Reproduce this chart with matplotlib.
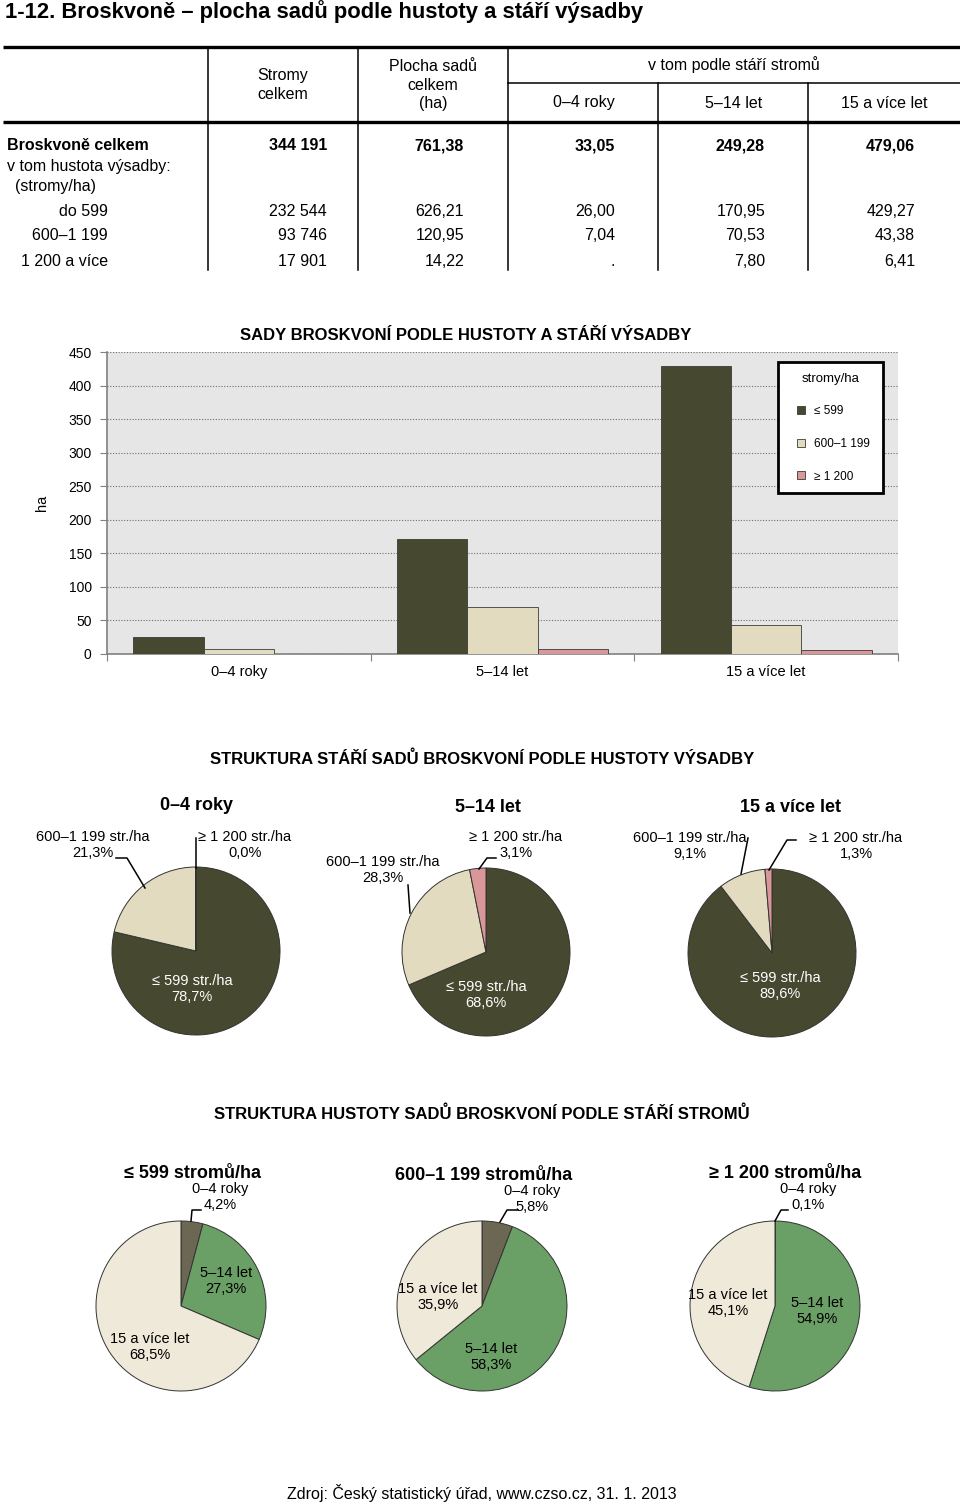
import matplotlib
matplotlib.use('Agg')
import matplotlib.pyplot as plt
from matplotlib import font_manager
from matplotlib.lines import Line2D

# --- fonty ---
_names = {f.name for f in font_manager.fontManager.ttflist}
NARROW = 'Liberation Sans Narrow' if 'Liberation Sans Narrow' in _names else 'Liberation Sans'
ARIAL = 'Liberation Sans'

# --- data (ha, stromy) ---
age_groups = ['0–4 roky', '5–14 let', '15 a více let']
density_rows = ['do 599', '600–1 199', '1 200 a více']
density_short = ['≤ 599', '600–1 199', '≥ 1 200']
trees = [232544, 93746, 17901]
area_density = [626.21, 120.95, 14.22]
area_0_4 = [26.00, 7.04, 0.01]
area_5_14 = [170.95, 70.53, 7.80]
area_15 = [429.27, 43.38, 6.41]

col_dark = '#46482F'
col_light = '#E3DBBF'
col_pink = '#D9979A'
col_age = ['#6B6753', '#6A9F66', '#EEE9D8']

W, H = 960, 1503


def fx(x):
    return x / W


def fy(y):
    return 1 - y / H


def num(v, nd=2):
    if v < 0.05:
        return '.'
    return f'{v:,.{nd}f}'.replace(',', ' ').replace('.', ',')


def pct(v, total):
    return f'{100 * v / total:.1f}'.replace('.', ',') + '%'


fig = plt.figure(figsize=(W / 100, H / 100), dpi=100)

# ---------------- tabulka ----------------
by_age = [area_0_4, area_5_14, area_15]
age_total = [sum(a) for a in by_age]

ov = fig.add_axes([0, 0, 1, 1], zorder=5)
ov.set_xlim(0, W)
ov.set_ylim(H, 0)
ov.axis('off')
ov.patch.set_alpha(0)

ov.text(5, 12, '1-12. Broskvoně – plocha sadů podle hustoty a stáří výsadby',
        fontsize=15.8, fontweight='bold', family=NARROW, va='center', ha='left')

ov.plot([3, 960], [47, 47], color='black', lw=2.4, solid_capstyle='butt')
ov.plot([3, 960], [122, 122], color='black', lw=2.4, solid_capstyle='butt')
ov.plot([508, 960], [83, 83], color='black', lw=1.1)
for x in [208, 358, 508]:
    ov.plot([x, x], [47, 270], color='black', lw=1.1)
for x in [658, 808]:
    ov.plot([x, x], [83, 270], color='black', lw=1.1)

tkw = dict(fontsize=11.5, family=NARROW, va='center')
ov.text(283, 85, 'Stromy\ncelkem', ha='center', linespacing=1.3, **tkw)
ov.text(433, 85, 'Plocha sadů\ncelkem\n(ha)', ha='center', linespacing=1.3, **tkw)
ov.text(734, 65, 'v tom podle stáří stromů', ha='center', **tkw)
for xc, lab in zip([584, 734, 884], age_groups):
    ov.text(xc, 103, lab, ha='center', **tkw)

col_right = [327, 464, 615, 765, 915]
total_row = [f'{sum(trees):,}'.replace(',', ' '), num(sum(area_density))] + [num(v) for v in age_total]
ov.text(7, 146, 'Broskvoně celkem', ha='left', fontweight='bold', **tkw)
for xr, s in zip(col_right, total_row):
    ov.text(xr, 146, s, ha='right', fontweight='bold', **tkw)
ov.text(7, 166, 'v tom hustota výsadby:', ha='left', **tkw)
ov.text(15, 186, '(stromy/ha)', ha='left', **tkw)
for i, (yr, lab) in enumerate(zip([211, 236, 261], density_rows)):
    ov.text(108, yr, lab, ha='right', **tkw)
    row = [f'{trees[i]:,}'.replace(',', ' '), num(area_density[i])] + [num(a[i]) for a in by_age]
    for xr, s in zip(col_right, row):
        ov.text(xr, yr, s, ha='right', **tkw)

# ---------------- sloupcovy graf ----------------
bx0, bx1, by0, by1 = 107, 898, 352, 654
ax = fig.add_axes([fx(bx0), fy(by1), (bx1 - bx0) / W, (by1 - by0) / H])
ax.set_facecolor('#E6E6E6')
xs = range(len(age_groups))
bw = 0.8 / 3
series = [
    ([a[0] for a in by_age], col_dark, density_short[0]),
    ([a[1] for a in by_age], col_light, density_short[1]),
    ([a[2] for a in by_age], col_pink, density_short[2]),
]
handles = []
for k, (vals, c, lab) in enumerate(series):
    ax.bar([x + (k - 1) * bw for x in xs], vals, width=bw, color=c,
           edgecolor='#3a3a3a', linewidth=0.6, zorder=3)
    handles.append(Line2D([], [], linestyle='none', marker='s', markersize=5.5,
                          markerfacecolor=c, markeredgecolor='#3a3a3a', markeredgewidth=0.6, label=lab))
ax.set_xlim(-0.5, 2.5)
ax.set_ylim(0, 450)
ax.set_yticks(range(0, 451, 50))
ax.yaxis.grid(True, linestyle=(0, (1, 1.5)), color='#707070', linewidth=0.8, zorder=1)
ax.set_axisbelow(True)
ax.set_xticks([-0.5, 0.5, 1.5, 2.5])
ax.set_xticklabels([])
ax.set_xticks(list(xs), minor=True)
ax.set_xticklabels(age_groups, minor=True, family=NARROW, fontsize=10.5)
ax.tick_params(axis='x', which='minor', length=0, pad=8)
ax.tick_params(axis='x', which='major', length=5, color='#808080')
ax.tick_params(axis='y', length=5, color='#808080', labelsize=10, pad=6)
for lab in ax.get_yticklabels():
    lab.set_family(ARIAL)
for s in ['top', 'right']:
    ax.spines[s].set_visible(False)
for s in ['left', 'bottom']:
    ax.spines[s].set_color('#808080')
    ax.spines[s].set_linewidth(1.2)
ax.set_ylabel('ha', family=ARIAL, fontsize=10.5, labelpad=14)
leg = ax.legend(handles=handles, title='stromy/ha', loc='upper left',
                bbox_to_anchor=(0.848, 0.53, 0.133, 0.437), mode='expand', borderaxespad=0,
                prop={'family': NARROW, 'size': 8.5}, title_fontproperties={'family': ARIAL, 'size': 9.5},
                fancybox=False, framealpha=1, edgecolor='black', borderpad=0.9,
                handlelength=2.2, handletextpad=0.0, labelspacing=1.75)
leg.get_frame().set_linewidth(2)
ov.text(466, 335, 'SADY BROSKVONÍ PODLE HUSTOTY A STÁŘÍ VÝSADBY', ha='center', va='center',
        family=ARIAL, fontweight='bold', fontsize=12)

# ---------------- kolace ----------------
def pie_axes(cx, cy, r):
    m = r + 3
    a = fig.add_axes([fx(cx - m), fy(cy + m), 2 * m / W, 2 * m / H])
    return a, m / r


sec_kw = dict(ha='center', va='center', family=ARIAL, fontweight='bold', fontsize=12)
ttl_kw = dict(ha='center', va='center', family=NARROW, fontweight='bold', fontsize=13)
lab_kw = dict(ha='center', va='center', family=NARROW, fontsize=10.5, linespacing=1.15)

ov.text(482, 759, 'STRUKTURA STÁŘÍ SADŮ BROSKVONÍ PODLE HUSTOTY VÝSADBY', **sec_kw)

row1_centres = [(196, 951), (486, 952), (772, 953)]
row1_titles = [(196, 805), (488, 807), (790, 807)]
row1_labels = [
    [(192, 989), (93, 845), (245, 845)],
    [(486, 995), (383, 870), (516, 845)],
    [(780, 986), (690, 846), (856, 846)],
]
row1_leaders = [
    [None, [(116, 858), (127, 858), (145, 888)], [(196, 838), (196, 868)]],
    [None, [(408, 885), (410, 913)], [(496, 858), (487, 858), (479, 869)]],
    [None, [(748, 838), (741, 874)], [(796, 840), (787, 840), (769, 870)]],
]
for g, vals in enumerate(by_age):
    cx, cy = row1_centres[g]
    pa, lim = pie_axes(cx, cy, 84)
    pa.pie(vals, colors=[col_dark, col_light, col_pink], startangle=90, counterclock=False,
           wedgeprops=dict(edgecolor='#333333', linewidth=0.7))
    pa.set_xlim(-lim, lim)
    pa.set_ylim(-lim, lim)
    ov.text(*row1_titles[g], age_groups[g], **ttl_kw)
    tot = sum(vals)
    for k in range(3):
        txt = f'{density_short[k]} str./ha\n{pct(vals[k], tot)}'
        ov.text(*row1_labels[g][k], txt, color='white' if k == 0 else 'black', **lab_kw)
        ld = row1_leaders[g][k]
        if ld:
            ov.plot([p[0] for p in ld], [p[1] for p in ld], color='black', lw=1.1)

ov.text(482, 1114, 'STRUKTURA HUSTOTY SADŮ BROSKVONÍ PODLE STÁŘÍ STROMŮ', **sec_kw)

row3_titles = [(193, 1173), (484, 1175), (785, 1173)]
row3_names = ['≤ 599 stromů/ha', '600–1 199 stromů/ha', '≥ 1 200 stromů/ha']
row3_centres = [(181, 1306), (482, 1306), (775, 1306)]
row3_labels = [
    [(220, 1197), (226, 1281), (150, 1347)],
    [(532, 1199), (491, 1357), (438, 1297)],
    [(808, 1197), (817, 1311), (728, 1303)],
]
row3_leaders = [
    [(201, 1210), (192, 1210), (191, 1221)],
    [(518, 1210), (507, 1210), (500, 1222)],
    [(788, 1210), (781, 1210), (775, 1221)],
]
for d in range(3):
    vals = [a[d] for a in by_age]
    cx, cy = row3_centres[d]
    pa, lim = pie_axes(cx, cy, 85)
    pa.pie(vals, colors=col_age, startangle=90, counterclock=False,
           wedgeprops=dict(edgecolor='#333333', linewidth=0.7))
    pa.set_xlim(-lim, lim)
    pa.set_ylim(-lim, lim)
    ov.text(*row3_titles[d], row3_names[d], **ttl_kw)
    tot = sum(vals)
    for k in range(3):
        ov.text(*row3_labels[d][k], f'{age_groups[k]}\n{pct(vals[k], tot)}', **lab_kw)
    ld = row3_leaders[d]
    ov.plot([p[0] for p in ld], [p[1] for p in ld], color='black', lw=1.1)

ov.text(482, 1493, 'Zdroj: Český statistický úřad, www.czso.cz, 31. 1. 2013', ha='center', va='center',
        family=ARIAL, fontsize=11.5)

fig.savefig('out.png', dpi=100, facecolor='white')
